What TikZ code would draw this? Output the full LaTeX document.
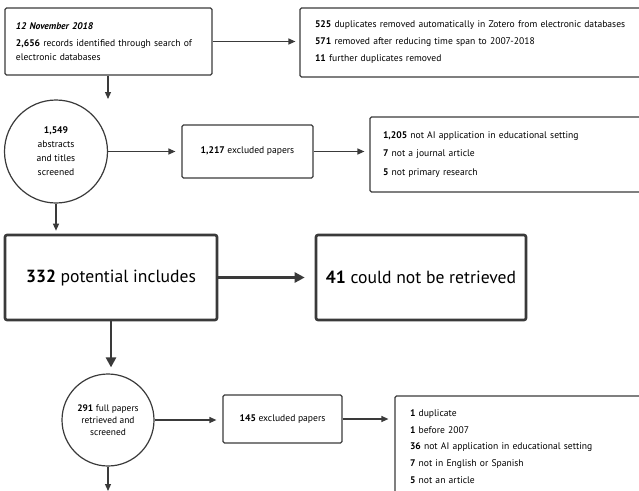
\documentclass[tikz,border=0pt]{standalone}
\usepackage{fontspec}
\setmainfont{PT Sans}
\usetikzlibrary{arrows.meta}
\definecolor{ln}{HTML}{3A3A3A}
\begin{document}
\begin{tikzpicture}[x=1pt,y=-1pt,
  box/.style={draw=ln, line width=1.2pt, rounded corners=1.5pt, inner sep=0pt, align=left},
  bigbox/.style={draw=ln, line width=2.6pt, rounded corners=2pt, inner sep=0pt, font=\fontsize{17.6}{20}\selectfont},
  circ/.style={draw=ln, line width=1.2pt, circle, inner sep=0pt, align=center},
  arr/.style={draw=ln, line width=1.2pt, -{Triangle[length=7pt,width=6pt]}},
  bigarr/.style={draw=ln, line width=2.6pt, -{Triangle[length=10pt,width=10pt]}},
  txt/.style={font=\fontsize{9.6}{17}\selectfont}
]
\useasboundingbox (0,0) rectangle (639,490);
\clip (0,0) rectangle (639,490);

\node[box, font=\fontsize{9.6}{14}\selectfont, minimum width=207, minimum height=67, text width=185] (b1) at (108.5,41.5)
  {\textbf{\textit{12 November 2018}}\\[3pt]\textbf{2,656} records identified through search of\\electronic databases};
\node[box, txt, minimum width=360, minimum height=69, text width=330] (b2) at (480,42.5)
  {\textbf{525} duplicates removed automatically in Zotero from electronic databases\\\textbf{571} removed after reducing time span to 2007-2018\\\textbf{11} further duplicates removed};

\node[circ, font=\fontsize{9.6}{14}\selectfont, minimum size=103] (c1) at (56,151.5)
  {\textbf{1,549}\\abstracts\\and titles\\screened};
\node[box, txt, minimum width=131, minimum height=53, align=center] (b1217) at (247.5,151.5)
  {\textbf{1,217} excluded papers};
\node[box, font=\fontsize{9.6}{18.5}\selectfont, minimum width=290, minimum height=75, text width=264] (b1205) at (515,154.5)
  {\textbf{1,205} not AI application in educational setting\\\textbf{7} not a journal article\\\textbf{5} not primary research};

\node[bigbox, minimum width=212, minimum height=85] (big) at (111,277.5)
  {\textbf{332} potential includes};
\node[bigbox, minimum width=210, minimum height=85] (b41) at (421,277.5)
  {\textbf{41} could not be retrieved};

\node[circ, font=\fontsize{9.4}{12}\selectfont, minimum size=92] (c2) at (108,420)
  {\textbf{291} full papers\\retrieved and\\screened};
\node[box, txt, minimum width=119, minimum height=48, align=center] (b145) at (282.5,419)
  {\textbf{145} excluded papers};
\node[box, font=\fontsize{9.6}{16.8}\selectfont, minimum width=265, minimum height=101, text width=235] (bbot) at (527.5,446.5)
  {\textbf{1} duplicate\\\textbf{1} before 2007\\\textbf{36} not AI application in educational setting\\\textbf{7} not in English or Spanish\\\textbf{5} not an article};

\coordinate (a1) at (108,99);
\coordinate (a2) at (108,491);

\draw[arr, shorten >=4pt] (b1.east) -- (b1.east -| b2.west);
\draw[arr] (b1.south -| a1) -- (a1);
\draw[arr, shorten >=6pt] (c1.east) -- (b1217.west);
\draw[arr, shorten >=5pt] (b1217.east) -- (b1217.east -| b1205.west);
\draw[arr, shorten >=3pt] (c1.south) -- (c1.south |- big.north);
\draw[bigarr, shorten >=10pt] (big.east) -- (b41.west);
\draw[bigarr, shorten >=6pt] (big.south) -- (big.south |- c2.north);
\draw[arr, shorten >=6pt] (c2.east) -- (c2.east -| b145.west);
\draw[arr, shorten >=6pt] (b145.east) -- (b145.east -| bbot.west);
\draw[arr] (c2.south) -- (a2);
\end{tikzpicture}
\end{document}
